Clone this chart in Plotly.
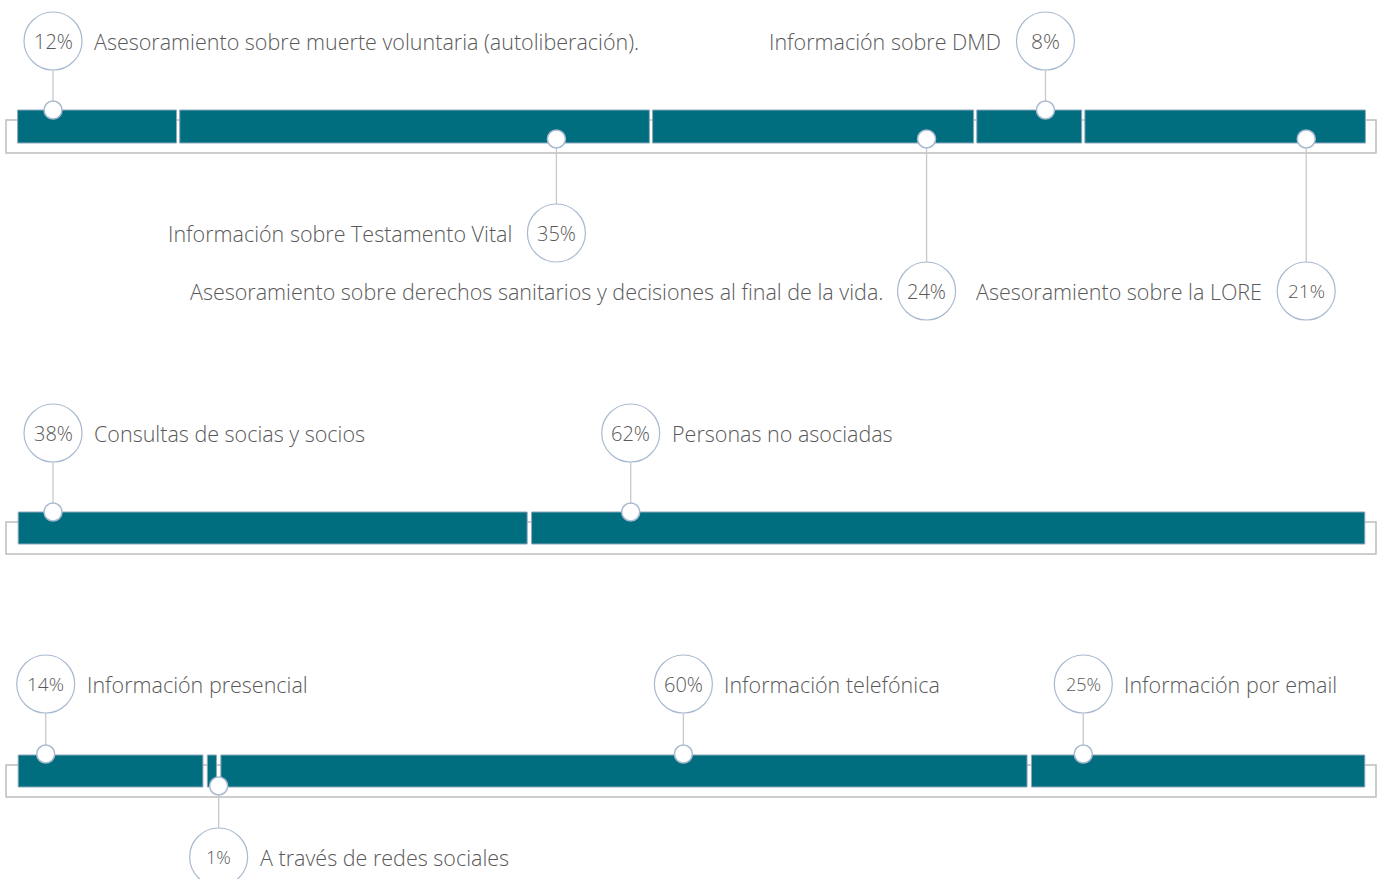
import plotly.graph_objects as go

# ---------------- data ----------------
bar1_labels = ["Asesoramiento sobre muerte voluntaria (autoliberación).",
               "Información sobre Testamento Vital",
               "Asesoramiento sobre derechos sanitarios y decisiones al final de la vida.",
               "Información sobre DMD",
               "Asesoramiento sobre la LORE"]
bar1_values = [12, 35, 24, 8, 21]

bar2_labels = ["Consultas de socias y socios", "Personas no asociadas"]
bar2_values = [38, 62]

bar3_labels = ["Información presencial", "A través de redes sociales",
               "Información telefónica", "Información por email"]
bar3_values = [14, 1, 60, 25]

# ---------------- layout helpers (positions / styles) ----------------
W, H = 1383, 879
PX0, PXW = 16, 1351.0          # pixel where 0% starts, pixels per 100%
S = PXW / 100.0


def px2x(px):
    return (px - PX0) / S


TEAL = "#006e7e"
SEG_LINE = "#8ea7bd"
CIRC_LINE = "#a9bad0"
CONN = "#c9c9c9"
BRACKET = "#bdbdbd"
TXT = "#595959"
FONT = "Open Sans"

# per bar: (values, labels, bar top px, bar bottom px, half gap px, callout specs)
# callout spec: (anchor position in % along bar, side of bar, circle y px, label side, pct font size, dot y px)
bars = [
    (bar1_values, bar1_labels, 110, 143, 1.6, [
        (2.74, "top", 41, "right", 20, 110),
        (40.0, "bottom", 233, "left", 20, 139),
        (67.4, "bottom", 291, "left", 20, 139),
        (76.2, "top", 41, "left", 21, 110),
        (95.5, "bottom", 291, "left", 19, 139),
    ]),
    (bar2_values, bar2_labels, 512, 544, 2.2, [
        (2.74, "top", 433, "right", 20, 512),
        (45.5, "top", 433, "right", 20, 512),
    ]),
    (bar3_values, bar3_labels, 755, 787, 2.2, [
        (2.2, "top", 684, "right", 19, 754),
        (15.0, "bottom", 857, "right", 18, 786),
        (49.4, "top", 684, "right", 20, 754),
        (79.0, "top", 684, "right", 18, 754),
    ]),
]

fig = go.Figure()
shapes = []
annotations = []

for values, labels, ytop, ybot, hg, callouts in bars:
    yc = (ytop + ybot) / 2.0
    h = ybot - ytop
    gap = hg / S
    # bracket outline behind the bar
    shapes.append(dict(type="rect", layer="below", xref="x", yref="y",
                       x0=px2x(6), x1=px2x(1376), y0=ytop + 10, y1=ybot + 10,
                       line=dict(color=BRACKET, width=1.5), fillcolor="rgba(0,0,0,0)"))
    cum = 0
    for v, lab in zip(values, labels):
        fig.add_trace(go.Bar(orientation="h", y=[yc], x=[v - 2 * gap], base=[cum + gap],
                             width=h, marker=dict(color=TEAL, line=dict(color=SEG_LINE, width=1)),
                             hoverinfo="skip", showlegend=False))
        cum += v
    # callouts
    for (pos, side, cy, lside, fs, dy), v, lab in zip(callouts, values, labels):
        fig.add_trace(go.Scatter(x=[pos, pos], y=[cy, dy], mode="lines",
                                 line=dict(color=CONN, width=1.3), hoverinfo="skip", showlegend=False))
        fig.add_trace(go.Scatter(x=[pos], y=[dy], mode="markers",
                                 marker=dict(size=18, color="white", line=dict(color=CIRC_LINE, width=1.5)),
                                 hoverinfo="skip", showlegend=False))
        fig.add_trace(go.Scatter(x=[pos], y=[cy], mode="markers",
                                 marker=dict(size=58, color="white", line=dict(color=CIRC_LINE, width=1.2)),
                                 hoverinfo="skip", showlegend=False))
        annotations.append(dict(x=pos, y=cy, xref="x", yref="y", text=f"{v}%", showarrow=False,
                                xanchor="center", yanchor="middle",
                                font=dict(family=FONT, size=fs, color=TXT, weight=300)))
        annotations.append(dict(x=pos, y=cy, xref="x", yref="y", text=lab, showarrow=False,
                                xanchor="left" if lside == "right" else "right",
                                xshift=39 if lside == "right" else -42, yanchor="middle",
                                font=dict(family=FONT, size=21.5, color=TXT, weight=300)))

fig.update_layout(
    width=W, height=H, margin=dict(l=0, r=0, t=0, b=0),
    paper_bgcolor="white", plot_bgcolor="white",
    barmode="overlay", showlegend=False,
    shapes=shapes, annotations=annotations,
    xaxis=dict(range=[px2x(0), px2x(W)], visible=False, fixedrange=True),
    yaxis=dict(range=[H, 0], visible=False, fixedrange=True),
    font=dict(family=FONT, color=TXT),
)

fig.write_html("out.html", config={"displayModeBar": False},
               post_script="document.body.style.margin='0px';document.body.style.overflow='hidden';")
